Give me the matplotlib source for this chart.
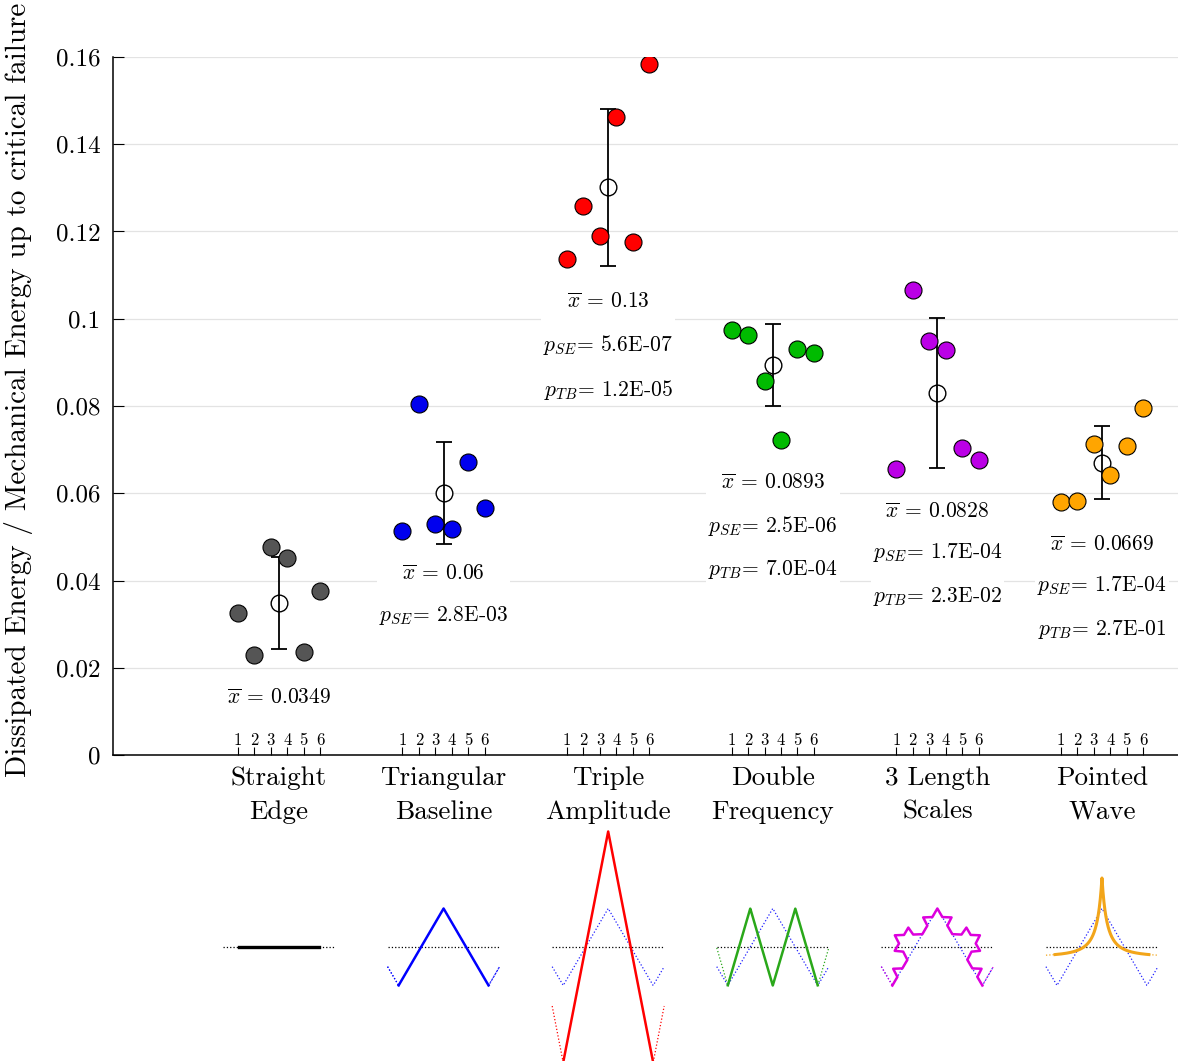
import numpy as np
import matplotlib.pyplot as plt
from matplotlib.ticker import FormatStrFormatter
from matplotlib.transforms import blended_transform_factory

plt.rcParams['font.family'] = 'serif'
plt.rcParams['font.serif'] = ['cmr10']
plt.rcParams['mathtext.fontset'] = 'cm'
plt.rcParams['axes.formatter.use_mathtext'] = True

# data
categories = ['Straight\nEdge', 'Triangular\nBaseline', 'Triple\nAmplitude',
              'Double\nFrequency', '3 Length\nScales', 'Pointed\nWave']
colors = ['#555555', '#0000ee', '#ff0000', '#00bb00', '#bb00e6', '#ffa500']
icon_colors = ['black', '#0000ff', '#ff0000', '#2aa81a', '#dd00dd', '#f2a51a']

straight = [0.0326, 0.0229, 0.0477, 0.0452, 0.0236, 0.0376]
triangular = [0.0513, 0.0805, 0.0530, 0.0518, 0.0672, 0.0566]
triple = [0.1137, 0.1258, 0.1190, 0.1462, 0.1176, 0.1584]
double = [0.0974, 0.0963, 0.0857, 0.0722, 0.0931, 0.0921]
three_scales = [0.0656, 0.1066, 0.0949, 0.0928, 0.0704, 0.0676]
pointed = [0.0580, 0.0582, 0.0713, 0.0642, 0.0708, 0.0795]
samples = [straight, triangular, triple, double, three_scales, pointed]

mean_labels = ['0.0349', '0.06', '0.13', '0.0893', '0.0828', '0.0669']
p_se = [None, '2.8E-03', '5.6E-07', '2.5E-06', '1.7E-04', '1.7E-04']
p_tb = [None, None, '1.2E-05', '7.0E-04', '2.3E-02', '2.7E-01']
sample_ids = ['1', '2', '3', '4', '5', '6']
yticks = [0, 0.02, 0.04, 0.06, 0.08, 0.1, 0.12, 0.14, 0.16]

W, H = 1178, 1061
fig = plt.figure(figsize=(W / 100, H / 100), dpi=100)
ax = fig.add_axes([113 / W, 306 / H, 1 - 113 / W, 698 / H])

for g, vals in enumerate(samples):
    xs = 10 * g + np.arange(1, 7)
    cx = 10 * g + 3.5
    m = np.mean(vals)
    s = np.std(vals, ddof=1)
    ax.plot(cx, m, 'o', ms=12, mfc='white', mec='k', mew=1.0, zorder=3)
    ax.errorbar(cx, m, yerr=s, fmt='none', ecolor='k', elinewidth=1.3,
                capsize=5.8, capthick=1.3, zorder=4)
    ax.scatter(xs, vals, s=150, c=colors[g], edgecolors='k', linewidths=0.8, zorder=5)

    lines = [r'$\overline{x}$ = ' + mean_labels[g]]
    if p_se[g]:
        lines.append(r'$p_{SE}$= ' + p_se[g])
    if p_tb[g]:
        lines.append(r'$p_{TB}$= ' + p_tb[g])
    ax.annotate('\n'.join(lines), xy=(cx, min(vals)), xytext=(0, -24),
                textcoords='offset points', ha='center', va='top', fontsize=15.5,
                linespacing=2.2, zorder=2,
                bbox=dict(boxstyle='square,pad=0.1', fc='white', ec='none'))

trans = blended_transform_factory(ax.transData, ax.transAxes)
for g, name in enumerate(categories):
    ax.text(10 * g + 3.5, -0.016, name, transform=trans, ha='center', va='top',
            fontsize=19.5, linespacing=1.55)

ax.set_xlim(-6.585, 58.12)
ax.set_ylim(0, 0.16)
ax.set_xticks([10 * g + k for g in range(6) for k in range(1, 7)])
ax.set_xticklabels(sample_ids * 6)
ax.tick_params(axis='x', direction='in', length=6, width=0.8, pad=-16, labelsize=12)
ax.set_yticks(yticks)
ax.yaxis.set_major_formatter(FormatStrFormatter('%g'))
ax.tick_params(axis='y', direction='in', length=8, width=0.8, pad=9, labelsize=18)
ax.grid(axis='y', color='#e3e3e3', lw=0.9, zorder=0)
ax.set_axisbelow(True)
for side in ['top', 'right']:
    ax.spines[side].set_visible(False)
for side in ['left', 'bottom']:
    ax.spines[side].set_linewidth(1.1)
ax.set_ylabel('Dissipated Energy / Mechanical Energy up to critical failure',
              fontsize=21)
ax.yaxis.set_label_coords(-0.075, 0.523)

# profile sketches under each category
PX = 16.46      # pixels per x unit
AMP = 38.5      # pixels per unit amplitude
half = 45 / PX
ext = 56 / PX
ax2 = fig.add_axes([113 / W, 0, 1 - 113 / W, 241 / H])
ax2.set_xlim(ax.get_xlim())
ax2.set_ylim(-114 / AMP, 127 / AMP)
ax2.axis('off')

u = np.linspace(-ext, ext, 801)
inner = np.abs(u) <= half


def tri(t):
    return 1 - 2 * np.abs(t - 2 * np.round(t / 2))


def koch(pts, levels, k):
    pts = [np.array(p, float) for p in pts]
    for _ in range(levels):
        new = [pts[0]]
        for a, b in zip(pts[:-1], pts[1:]):
            d = b - a
            n = np.array([-d[1], d[0]])
            new += [a + d / 3, a + d / 2 + n * k, a + 2 * d / 3, b]
        pts = new
    return np.array(pts)


def solid_dotted(cx, y, color, lw=1.8):
    ax2.plot(cx + u, np.where(inner, y, np.nan), '-', color=color, lw=lw)
    for side in [u <= -half, u >= half]:
        ax2.plot(cx + u[side], y[side], ':', color=color, lw=0.9)


for g in range(6):
    cx = 10 * g + 3.5
    ax2.plot(cx + u, 0 * u, ':', color='k', lw=0.9)
    if g > 0:
        ax2.plot(cx + u, tri(u / half), ':', color='#2020ff', lw=0.9)
    c = icon_colors[g]
    if g == 0:
        ax2.plot([cx - 40 / PX, cx + 40 / PX], [0, 0], '-', color=c, lw=2.4)
    elif g == 1:
        solid_dotted(cx, tri(u / half), c)
    elif g == 2:
        solid_dotted(cx, 3 * tri(u / half), c)
    elif g == 3:
        solid_dotted(cx, -tri(2 * u / half), c)
    elif g == 4:
        pk = koch([(-45, -38.5), (0, 38.5), (45, -38.5)], 2, 0.26)
        ax2.plot(cx + pk[:, 0] / PX, pk[:, 1] / AMP, '-', color=c, lw=1.8)
        y = tri(u / half)
        for side in [u <= -half, u >= half]:
            ax2.plot(cx + u[side], y[side], ':', color=c, lw=0.9)
    else:
        dx = np.abs(u * PX)
        y = (-10 + 79 / (1 + dx / 10) ** 2) / AMP
        inner_o = dx <= 47
        ax2.plot(cx + u, np.where(inner_o, y, np.nan), '-', color=c, lw=2.2)
        for side in [u * PX <= -47, u * PX >= 47]:
            ax2.plot(cx + u[side], y[side], ':', color=c, lw=0.9)

fig.savefig('out.png', dpi=100)
